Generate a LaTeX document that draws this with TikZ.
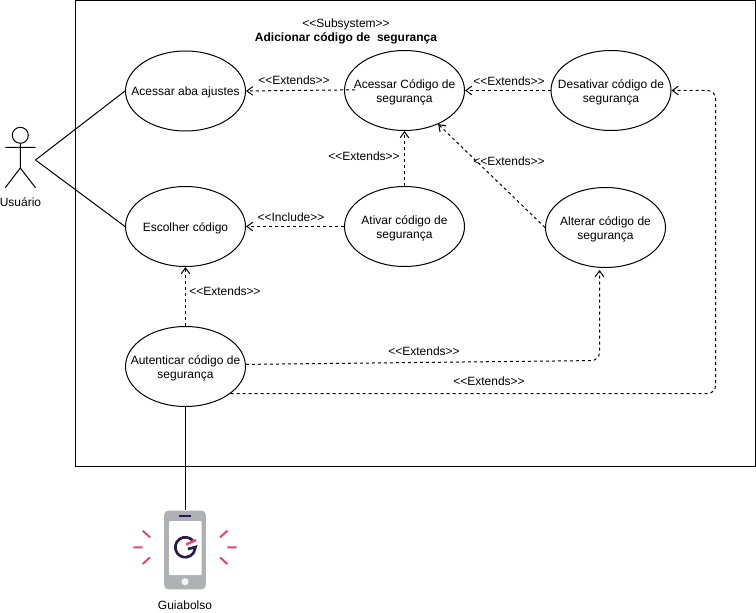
\documentclass[tikz,border=0pt]{standalone}
\usepackage{fontspec}
\setmainfont{Liberation Sans}
\usetikzlibrary{arrows.meta,shapes.geometric}
\definecolor{phonegray}{HTML}{B0B1B5}
\definecolor{logodark}{HTML}{2A1A4E}
\definecolor{logopink}{HTML}{F0426F}
\newcommand{\ltlt}{<{}<}
\newcommand{\gtgt}{>{}>}
\newcommand{\uctext}[1]{\raisebox{-1.5pt}[\dimexpr\height+1.5pt\relax][\dimexpr\depth+1.5pt\relax]{\begin{tabular}{@{}c@{}}#1\end{tabular}}}
\tikzset{
  usecase/.style={ellipse,draw=black,fill=white,line width=0.75pt,minimum width=90pt,minimum height=60pt,inner xsep=-20pt,inner ysep=-8pt,align=center,font=\fontsize{9}{10.5}\selectfont},
  rel/.style={dashed,dash pattern=on 2.25pt off 2.25pt,line width=0.75pt,-{Straight Barb[length=4.5pt,width=6.5pt]},rounded corners=6pt},
  assoc/.style={line width=0.75pt},
  lbl/.style={inner sep=0pt,font=\fontsize{9}{10.5}\selectfont},
  tick/.style={line width=1.5pt,logopink},
}
\begin{document}
\begin{tikzpicture}[x=0.75pt,y=-0.75pt]
\useasboundingbox (0,0) rectangle (756,613);
\draw[line width=0.75pt] (75.5,0.5) rectangle (755.5,466);
% subsystem title
\node[lbl] (st1) at (346,24) {\ltlt Subsystem\gtgt};
\node[lbl,font=\fontsize{9}{10.5}\selectfont\bfseries] (st2) at (346,38) {Adicionar código de\ \ segurança};
% use cases
\node[usecase] (aba) at (185.5,91) {\uctext{Acessar aba ajustes}};
\node[usecase] (cod) at (404.5,90.5) {\uctext{Acessar Código de\\segurança}};
\node[usecase] (des) at (611,90.5) {\uctext{Desativar código de\\segurança}};
\node[usecase] (esc) at (185.5,226.5) {\uctext{Escolher código}};
\node[usecase] (ati) at (404.5,226.5) {\uctext{Ativar código de\\segurança}};
\node[usecase] (alt) at (605.5,227.5) {\uctext{Alterar código de\\segurança}};
\node[usecase] (aut) at (185.5,366.5) {\uctext{Autenticar código de\\segurança}};
% actor
\draw[assoc,fill=white] (20.3,135.3) circle (8);
\draw[assoc] (20.3,143.3) -- (20.3,168) (5.3,147.5) -- (35.5,147.5) (5.3,187.7) -- (20.3,168) -- (35.5,187.7);
\coordinate (actor) at (35.5,160);
\node[lbl] (usr) at (20.5,202) {Usuário};
\draw[assoc] (actor) -- (aba.west);
\draw[assoc] (actor) -- (esc.west);
% relations
\draw[rel] ([xshift=-37pt,yshift=0.5pt]cod.center) -- (aba.east);
\draw[rel] (des.west) -- (cod.east);
\draw[rel] (ati.north) -- (cod.south);
\draw[rel] (ati.west) -- (esc.east);
\draw[rel] (alt.west) -- (cod.-45);
\draw[rel] (aut.north) -- (esc.south);
\coordinate (c1) at (599.5,360.5);
\coordinate (c2) at (715.5,394.5);
\coordinate (c3) at (715.5,90.5);
\coordinate (t1) at (599.5,270);
\draw[rel] (aut.2) -- (c1) -- (t1);
\draw[rel] (aut.-31.4) -- (aut.-31.4 -| c2) -- (c3) -- (des.east);
% relation labels
\node[lbl] (l1) at (294,80) {\ltlt Extends\gtgt};
\node[lbl] (l2) at (509,81) {\ltlt Extends\gtgt};
\node[lbl] (l3) at (364,156) {\ltlt Extends\gtgt};
\node[lbl] (l4) at (509,161) {\ltlt Extends\gtgt};
\node[lbl] (l5) at (291,217) {\ltlt Include\gtgt};
\node[lbl] (l6) at (225,291) {\ltlt Extends\gtgt};
\node[lbl] (l7) at (424,351) {\ltlt Extends\gtgt};
\node[lbl] (l8) at (489,381) {\ltlt Extends\gtgt};
% phone
\node[fill=phonegray,rounded corners=3pt,minimum width=31.2pt,minimum height=59pt,inner sep=0pt] (phone) at (185,550) {};
\draw[assoc] (aut.south) -- (aut.south |- phone.north);
\fill[white,rounded corners=0.75pt] (169,521) rectangle (201.7,575);
\fill[white!85!phonegray] (185,581.7) circle (3.6);
\draw[logodark,line width=0.8pt] (179.3,516) -- (190.7,516);
\draw[logodark,line width=2pt] (193.5,541.5) arc (-35:-325:10);
\draw[logodark,line width=2pt] (188,549) -- (195.5,547) -- (193.5,553.2);
\draw[logopink,line width=1.8pt] (186,544.5) -- (196,540);
\draw[tick] (142.7,530.7) -- (150,537.3) (133.3,547.3) -- (142.7,547.3) (142.7,564) -- (150,557.3);
\draw[tick] (227.3,530.7) -- (220,537.3) (227.3,547.3) -- (236.7,547.3) (227.3,564) -- (220,557.3);
\node[lbl] (gb) at (185,605) {Guiabolso};
\end{tikzpicture}
\end{document}
